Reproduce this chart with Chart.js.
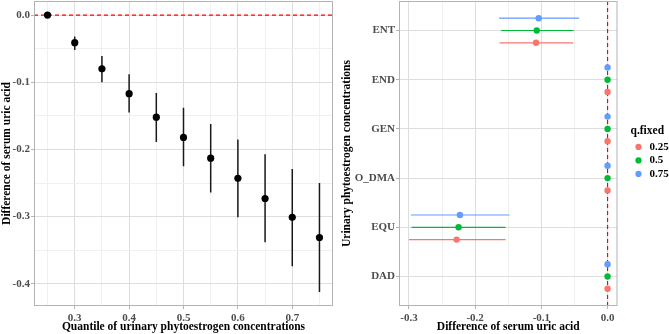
<!DOCTYPE html>
<html>
<head>
<meta charset="utf-8">
<script src="https://cdn.jsdelivr.net/npm/chart.js@4.4.1/dist/chart.umd.min.js"></script>
<style>
  html, body { margin: 0; padding: 0; background: #fff; }
  #wrap { position: relative; width: 669px; height: 334px; }
  #leftBox { position: absolute; left: 0; top: 0; width: 340px; height: 334px; }
  #rightBox { position: absolute; left: 340px; top: 0; width: 329px; height: 334px; }
</style>
</head>
<body>
<div id="wrap">
  <div id="leftBox"><canvas id="quantileChart"></canvas></div>
  <div id="rightBox"><canvas id="compoundChart"></canvas></div>
</div>
<script>
// left panel: difference of serum uric acid by quantile
const quantiles = [0.25, 0.30, 0.35, 0.40, 0.45, 0.50, 0.55, 0.60, 0.65, 0.70, 0.75];
const quantDiff = [0, -0.041, -0.080, -0.117, -0.152, -0.182, -0.213, -0.243, -0.273, -0.301, -0.331];
const quantLow  = [0, -0.052, -0.100, -0.145, -0.189, -0.225, -0.264, -0.301, -0.338, -0.374, -0.412];
const quantHigh = [0, -0.032, -0.061, -0.088, -0.116, -0.138, -0.162, -0.185, -0.207, -0.229, -0.250];

// right panel: compounds from bottom to top, one series per fixed quantile
const compounds = ['DAD', 'EQU', 'O_DMA', 'GEN', 'END', 'ENT'];
const qFixed = ['0.25', '0.5', '0.75'];
const qColors = ['#F8766D', '#00BA38', '#619CFF'];
const qDodge = [-0.25, 0, 0.25];
const diff025 = [0, -0.228, 0, 0, 0, -0.108];
const low025  = [0, -0.300, 0, 0, 0, -0.163];
const high025 = [0, -0.154, 0, 0, 0, -0.052];
const diff050 = [0, -0.225, 0, 0, 0, -0.107];
const low050  = [0, -0.296, 0, 0, 0, -0.161];
const high050 = [0, -0.154, 0, 0, 0, -0.051];
const diff075 = [0, -0.223, 0, 0, 0, -0.104];
const low075  = [0, -0.297, 0, 0, 0, -0.164];
const high075 = [0, -0.148, 0, 0, 0, -0.043];

// axis ranges (ggplot style 5% expansion, nudged so ticks land on round values)
const leftX = [0.2251, 0.7749];
const leftY = [-0.433, 0.021];
const rightX = [-0.315, 0.015];
const rightY = [0.4, 6.6];

Chart.defaults.font.family = 'Liberation Serif';
Chart.defaults.animation = false;

const tickFont = { family: 'Liberation Serif', size: 11, weight: 'bold' };
const titleFont = { family: 'Liberation Serif', size: 11.5, weight: 'bold' };
const isMajor = v => Math.abs(v * 10 - Math.round(v * 10)) < 1e-6;
const fmt = v => (Math.round(v * 10) / 10).toFixed(1);

// panel border drawn round the plot area
const panelBorder = {
    id: 'panelBorder',
    afterDatasetsDraw(chart) {
        const { ctx, chartArea: a } = chart;
        ctx.save();
        ctx.strokeStyle = '#b3b3b3';
        ctx.lineWidth = 1;
        ctx.strokeRect(a.left + 0.5, a.top + 0.5, a.right - a.left - 1, a.bottom - a.top - 1);
        ctx.restore();
    }
};

function numAxis(range, title, extra) {
    return Object.assign({
        type: 'linear',
        min: range[0],
        max: range[1],
        border: { display: false },
        grid: {
            color: c => isMajor(c.tick.value) ? '#dedede' : '#f0f0f0',
            tickColor: c => isMajor(c.tick.value) ? '#b3b3b3' : 'rgba(0,0,0,0)',
            tickLength: 3
        },
        ticks: {
            stepSize: 0.05,
            includeBounds: false,
            autoSkip: false,
            maxRotation: 0,
            padding: 1,
            color: '#4d4d4d',
            font: tickFont,
            callback: v => isMajor(v) ? fmt(v) : ''
        },
        title: { display: true, text: title, color: '#000', font: titleFont, padding: 0 }
    }, extra);
}

// x axes get a little more room between tick marks and labels
function xTicks() {
    return {
        stepSize: 0.05,
        includeBounds: false,
        autoSkip: false,
        maxRotation: 0,
        padding: 2.5,
        color: '#4d4d4d',
        font: tickFont,
        callback: v => isMajor(v) ? fmt(v) : ''
    };
}

// left chart
const barPoints = [];
quantiles.forEach((q, i) => {
    barPoints.push({ x: q, y: quantLow[i] }, { x: q, y: quantHigh[i] }, { x: q, y: null });
});

new Chart(document.getElementById('quantileChart'), {
    type: 'scatter',
    data: {
        datasets: [
            {
                data: quantiles.map((q, i) => ({ x: q, y: quantDiff[i] })),
                backgroundColor: '#000',
                borderWidth: 0,
                pointRadius: 3.6,
                order: 0
            },
            {
                data: barPoints,
                showLine: true,
                spanGaps: false,
                borderColor: '#1a1a1a',
                borderWidth: 1.5,
                pointRadius: 0,
                order: 1
            },
            {
                data: [{ x: leftX[0], y: 0 }, { x: leftX[1], y: 0 }],
                showLine: true,
                borderColor: '#ff0000',
                borderWidth: 1.2,
                borderDash: [4, 3],
                pointRadius: 0,
                order: 2
            }
        ]
    },
    options: {
        responsive: true,
        maintainAspectRatio: false,
        events: [],
        layout: { autoPadding: false, padding: { top: 1, right: 7, left: 0, bottom: 0 } },
        plugins: { legend: { display: false }, tooltip: { enabled: false } },
        scales: {
            x: numAxis(leftX, 'Quantile of urinary phytoestrogen concentrations', {
                position: 'bottom',
                ticks: xTicks(),
                afterFit: s => { s.height = 28; }
            }),
            y: numAxis(leftY, 'Difference of serum uric acid', {
                position: 'left',
                afterFit: s => { s.width = 34; s.paddingTop = 0; s.paddingBottom = 0; }
            })
        }
    },
    plugins: [panelBorder]
});

// right chart
const diffs = [diff025, diff050, diff075];
const lows = [low025, low050, low075];
const highs = [high025, high050, high075];

const pointSets = qFixed.map((q, k) => ({
    label: q,
    data: compounds.map((c, i) => ({ x: diffs[k][i], y: i + 1 + qDodge[k] })),
    backgroundColor: qColors[k],
    borderColor: qColors[k],
    borderWidth: 0,
    pointRadius: 3.2,
    order: 0
}));

const lineSets = qFixed.map((q, k) => {
    const pts = [];
    compounds.forEach((c, i) => {
        const y = i + 1 + qDodge[k];
        pts.push({ x: lows[k][i], y: y }, { x: highs[k][i], y: y }, { x: null, y: null });
    });
    return {
        label: q + ' range',
        data: pts,
        showLine: true,
        spanGaps: false,
        borderColor: qColors[k],
        borderWidth: 1.2,
        pointRadius: 0,
        order: 1
    };
});

new Chart(document.getElementById('compoundChart'), {
    type: 'scatter',
    data: {
        datasets: pointSets.concat(lineSets, [{
            label: 'zero',
            data: [{ x: 0, y: rightY[0] }, { x: 0, y: rightY[1] }],
            showLine: true,
            borderColor: '#ff0000',
            borderWidth: 1.2,
            borderDash: [4, 3],
            pointRadius: 0,
            order: 2
        }])
    },
    options: {
        responsive: true,
        maintainAspectRatio: false,
        events: [],
        layout: { autoPadding: false, padding: { top: 1, right: 0, left: 0, bottom: 0 } },
        plugins: {
            tooltip: { enabled: false },
            legend: {
                position: 'right',
                fullSize: false,
                maxWidth: 38.5,
                title: {
                    display: true,
                    text: 'q.fixed',
                    position: 'start',
                    color: '#000',
                    font: { family: 'Liberation Serif', size: 11.5, weight: 'bold' }
                },
                labels: {
                    filter: item => item.datasetIndex < qFixed.length,
                    usePointStyle: true,
                    pointStyle: 'circle',
                    boxWidth: 11,
                    boxHeight: 4.4,
                    padding: 2.5,
                    color: '#000',
                    font: { family: 'Liberation Serif', size: 11, weight: 'bold' }
                }
            }
        },
        scales: {
            x: numAxis(rightX, 'Difference of serum uric acid', {
                position: 'bottom',
                ticks: xTicks(),
                afterFit: s => { s.height = 28; }
            }),
            y: {
                type: 'linear',
                position: 'left',
                min: rightY[0],
                max: rightY[1],
                border: { display: false },
                grid: { color: '#dedede', tickColor: '#b3b3b3', tickLength: 3 },
                ticks: {
                    stepSize: 1,
                    includeBounds: false,
                    autoSkip: false,
                    padding: 1,
                    color: '#4d4d4d',
                    font: tickFont,
                    callback: v => compounds[Math.round(v) - 1] || ''
                },
                title: { display: true, text: 'Urinary phytoestrogen concentrations', color: '#000', font: titleFont, padding: 0 },
                afterFit: s => { s.width = 59; s.paddingTop = 0; s.paddingBottom = 0; }
            },
            gap: {
                type: 'linear',
                position: 'right',
                grid: { display: false },
                border: { display: false },
                ticks: { display: false },
                afterFit: s => { s.width = 13; s.paddingTop = 0; s.paddingBottom = 0; }
            }
        }
    },
    plugins: [panelBorder]
});
</script>
</body>
</html>
